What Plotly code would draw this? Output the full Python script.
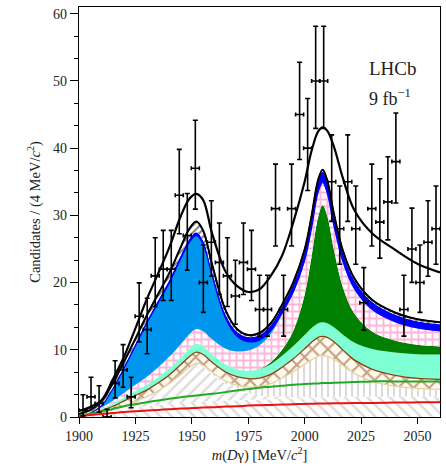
import numpy as np
import plotly.graph_objects as go

# ---- data: m(D gamma) histogram, 45 bins between 1900 and 2060 MeV ----
m_lo, m_hi, n_bins = 1900.0, 2060.0, 45
counts = [1, 3, 2, 0, 5, 7, 3, 15, 13, 21, 22, 22, 33, 27, 37, 20, 26, 23, 21, 18,
          23, 22, 16, 16, 31, 16, 31, 45, 40, 50, 50, 35, 28, 35, 28, 17, 31, 29, 32, 38,
          16, 25, 20, 26, 28]
err_hi = [2.30, 2.92, 2.64, 1.15, 3.38, 3.77, 2.92, 4.96, 4.67, 5.66, 5.76, 5.76, 6.81, 6.26, 7.14,
          5.58, 6.17, 5.87, 5.66, 5.32, 5.87, 5.76, 5.10, 5.10, 6.63, 5.10, 6.63, 7.77, 7.38, 8.13,
          8.13, 6.98, 6.36, 6.98, 6.36, 5.22, 6.63, 6.45, 6.72, 7.22, 5.10, 6.08, 5.58, 6.17, 6.36]
err_lo = [0.83, 1.63, 1.29, 0.00, 2.16, 2.58, 1.63, 3.83, 3.58, 4.55, 4.66, 4.66, 5.73, 5.17, 6.07,
          4.44, 5.07, 4.77, 4.55, 4.20, 4.77, 4.66, 3.96, 3.96, 5.55, 3.96, 5.55, 6.69, 6.31, 7.06,
          7.06, 5.90, 5.27, 5.90, 5.27, 4.08, 5.55, 5.36, 5.64, 6.15, 3.96, 4.97, 4.44, 5.07, 5.27]

# ---- fit components, evaluated at these masses (candidates per bin) ----
m_fit = [1900, 1905, 1910, 1915, 1920, 1925, 1930, 1935, 1940, 1945, 1949, 1952, 1955, 1959,
         1965, 1970, 1975, 1980, 1985, 1990, 1995, 2000, 2003, 2006, 2008, 2010, 2013, 2017,
         2022, 2030, 2040, 2050, 2060]
comb_bkg = [0.05, 0.3, 0.6, 0.9, 1.2, 1.4, 1.6, 1.8, 1.95, 2.1, 2.2, 2.25, 2.3, 2.35, 2.45, 2.5, 2.55,
            2.6, 2.65, 2.7, 2.75, 2.8, 2.8, 2.85, 2.85, 2.85, 2.9, 2.9, 2.95, 3.0, 3.0, 3.05, 3.1]
part_left = [0, 0, 0.05, 0.2, 0.5, 0.9, 1.4, 2.1, 3.0, 4.1, 5.1, 5.65, 5.2, 4.0, 2.5, 1.6, 1.0, 0.6,
             0.4, 0.3, 0.2, 0.15, 0.1, 0.1, 0.1, 0.1, 0.1, 0.05, 0.05, 0, 0, 0, 0]
part_right = [0, 0, 0, 0, 0, 0, 0, 0, 0, 0.1, 0.1, 0.1, 0.2, 0.3, 0.4, 0.6, 0.9, 1.3, 1.9, 2.8, 3.8,
              4.9, 5.6, 6.1, 6.2, 6.1, 5.6, 4.7, 3.5, 2.3, 1.6, 1.2, 1.0]
refl_brown = [0.02, 0.1, 0.3, 0.5, 0.7, 0.9, 1.0, 1.15, 1.3, 1.45, 1.6, 1.65, 1.6, 1.5, 1.35, 1.3, 1.25,
              1.3, 1.4, 1.6, 1.9, 2.3, 2.6, 2.8, 2.85, 2.8, 2.6, 2.3, 2.0, 1.8, 1.6, 1.5, 1.5]
refl_aqua = [0.02, 0.1, 0.25, 0.4, 0.55, 0.7, 0.8, 0.9, 1.0, 1.1, 1.2, 1.25, 1.25, 1.2, 1.15, 1.15, 1.2,
             1.3, 1.5, 1.7, 1.9, 2.05, 2.1, 2.1, 2.1, 2.1, 2.15, 2.3, 2.6, 3.0, 3.4, 3.6, 3.7]
sig_dstar = [0, 0, 0, 0, 0, 0, 0, 0, 0, 0, 0, 0, 0, 0, 0, 0, 0, 0.05, 0.3, 0.9, 2.3, 6.0, 10.5, 15.8,
             17.4, 16.0, 11.5, 7.0, 4.3, 2.6, 1.8, 1.4, 1.2]
refl_pink = [0, 0.05, 0.2, 0.4, 0.65, 0.9, 1.15, 1.4, 1.7, 1.95, 2.15, 2.2, 2.2, 2.2, 2.3, 2.6, 3.0, 3.5,
             4.2, 5.2, 5.6, 5.0, 4.2, 3.6, 3.3, 3.3, 3.5, 3.8, 3.7, 3.3, 2.8, 2.5, 2.3]
sig_left = [0, 0, 0.3, 1.8, 3.7, 5.8, 8.0, 9.6, 11.0, 12.7, 13.7, 13.9, 13.0, 9.5, 4.5, 2.3, 1.3, 0.8,
            0.5, 0.3, 0.2, 0.1, 0.1, 0.1, 0.1, 0.1, 0.1, 0.05, 0.05, 0, 0, 0, 0]
sig_blue = [0.05, 0.1, 0.15, 0.2, 0.25, 0.3, 0.35, 0.4, 0.45, 0.5, 0.5, 0.5, 0.5, 0.55, 0.6, 0.65, 0.7,
            0.75, 0.8, 0.9, 1.1, 1.3, 1.45, 1.55, 1.6, 1.55, 1.45, 1.3, 1.2, 1.1, 1.05, 1.0, 1.0]
sig_hatch = [0.3, 0.4, 0.5, 0.6, 0.7, 0.75, 0.8, 0.9, 1.0, 1.2, 1.5, 1.6, 1.5, 1.1, 0.6, 0.4, 0.3, 0.3,
             0.3, 0.3, 0.3, 0.3, 0.3, 0.3, 0.3, 0.3, 0.3, 0.3, 0.3, 0.3, 0.3, 0.3, 0.3]
bkg_red = [0.1, 0.3, 0.45, 0.6, 0.75, 0.85, 0.95, 1.05, 1.15, 1.25, 1.3, 1.35, 1.4, 1.45, 1.55, 1.6, 1.7,
           1.75, 1.8, 1.85, 1.9, 1.95, 1.97, 2.0, 2.0, 2.02, 2.04, 2.06, 2.08, 2.1, 2.15, 2.18, 2.2]
bkg_green = [0.2, 0.5, 0.8, 1.2, 1.6, 1.9, 2.2, 2.45, 2.7, 2.95, 3.1, 3.2, 3.3, 3.45, 3.7, 3.95, 4.15,
             4.35, 4.5, 4.65, 4.8, 4.9, 4.95, 5.0, 5.05, 5.05, 5.1, 5.15, 5.2, 5.3, 5.3, 5.3, 5.3]
total_fit = [0.9, 1.5, 2.5, 5.6, 9.0, 13.2, 17.5, 21.3, 25.2, 29.8, 32.5, 33.2, 32.3, 27.3, 21.6, 19.5,
             18.6, 19.0, 21.0, 24.0, 29.0, 35.0, 39.5, 42.5, 43.1, 42.6, 40.2, 35.5, 30.8, 27.3, 24.9,
             22.8, 21.5]

x_ticks = [1900, 1925, 1950, 1975, 2000, 2025, 2050]
y_ticks = [0, 10, 20, 30, 40, 50, 60]

bin_w = (m_hi - m_lo) / n_bins
centres = m_lo + bin_w * (np.arange(n_bins) + 0.5)

fig = go.Figure()

GREY = "#b8b8b8"
# stacked components: (values, solid colour or pattern, outline colour)
stack = [
    (comb_bkg, dict(pattern=dict(shape="\\", fgcolor=GREY, bgcolor="white", size=8, solidity=0.3)), None),
    (part_left, dict(pattern=dict(shape="/", fgcolor=GREY, bgcolor="white", size=8, solidity=0.3)), None),
    (part_right, dict(pattern=dict(shape="|", fgcolor=GREY, bgcolor="white", size=6, solidity=0.35)), "#e6d4a0"),
    (refl_brown, dict(pattern=dict(shape="x", fgcolor="#8b4513", bgcolor="#fffaf0", size=11, solidity=0.35)), "#8b4513"),
    (refl_aqua, dict(color="#7fffd4"), None),
    (sig_dstar, dict(color="#008000"), None),
    (refl_pink, dict(pattern=dict(shape="+", fgcolor="#ff69b4", bgcolor="white", size=7, solidity=0.45)), None),
    (sig_left, dict(color="#0096ee"), "#0000ff"),
    (sig_blue, dict(color="#0000ff"), None),
    (sig_hatch, dict(pattern=dict(shape="/", fgcolor="black", bgcolor="white", size=5, solidity=0.4)), "black"),
]

fig.add_trace(go.Scatter(x=m_fit, y=np.zeros(len(m_fit)), mode="lines",
                         line=dict(width=0), hoverinfo="skip", showlegend=False))
running = np.zeros(len(m_fit))
for vals, style, edge in stack:
    running = running + np.asarray(vals, dtype=float)
    kw = dict(x=m_fit, y=running.copy(), mode="lines", fill="tonexty",
              line=dict(width=1.3 if edge else 0, color=edge or "rgba(0,0,0,0)", shape="spline"),
              hoverinfo="skip", showlegend=False)
    if "pattern" in style:
        kw["fillpattern"] = style["pattern"]
        kw["fillcolor"] = style["pattern"]["bgcolor"]
    else:
        kw["fillcolor"] = style["color"]
    fig.add_trace(go.Scatter(**kw))

# outline of the stacked model
fig.add_trace(go.Scatter(x=m_fit, y=running, mode="lines",
                         line=dict(color="black", width=2, shape="spline"), showlegend=False))

# background shapes drawn as lines
fig.add_trace(go.Scatter(x=m_fit, y=bkg_green, mode="lines",
                         line=dict(color="#22aa22", width=2, shape="spline"), showlegend=False))
fig.add_trace(go.Scatter(x=m_fit, y=bkg_red, mode="lines",
                         line=dict(color="#ee1111", width=2, shape="spline"), showlegend=False))

# total fit
fig.add_trace(go.Scatter(x=m_fit, y=total_fit, mode="lines",
                         line=dict(color="black", width=2.2, shape="spline"), showlegend=False))

# data points
fig.add_trace(go.Scatter(
    x=centres, y=counts, mode="markers",
    marker=dict(size=1, color="black"),
    error_y=dict(type="data", symmetric=False, array=err_hi, arrayminus=err_lo,
                 color="black", thickness=1.6, width=2.5),
    error_x=dict(type="constant", value=bin_w / 2, color="black", thickness=1.6, width=2),
    showlegend=False))

font_family = "Liberation Serif"
fig.add_annotation(x=2027.5, y=51.8, text="LHCb", showarrow=False, xanchor="left",
                   font=dict(family=font_family, size=19, color="#222"))
fig.add_annotation(x=2027.5, y=47.6, text="9 fb<sup>−1</sup>", showarrow=False, xanchor="left",
                   font=dict(family=font_family, size=18, color="#222"))

fig.update_layout(
    width=446, height=467,
    margin=dict(l=79, r=6, t=7, b=50),
    paper_bgcolor="white", plot_bgcolor="white",
    font=dict(family=font_family, size=14, color="#222"),
)
fig.update_xaxes(
    range=[m_lo, m_hi], tickvals=x_ticks, ticktext=[str(v) for v in x_ticks],
    showline=True, mirror=True, linecolor="black", linewidth=1.3,
    ticks="outside", ticklen=6, tickwidth=1.2, tickcolor="black", showgrid=False, zeroline=False,
    title=dict(text="<i>m</i>(<i>D</i>γ) [MeV/<i>c</i><sup>2</sup>]", standoff=6, font=dict(size=14.5)),
)
fig.update_yaxes(
    range=[0, 61], tickvals=y_ticks, ticktext=[str(v) for v in y_ticks],
    showline=True, mirror=True, linecolor="black", linewidth=1.3,
    ticks="outside", ticklen=8, tickwidth=1.2, tickcolor="black", showgrid=False, zeroline=False,
    minor=dict(dtick=10 / 3, ticklen=4, ticks="outside", tickcolor="black", showgrid=False),
    title=dict(text="Candidates / (4 MeV/<i>c</i><sup>2</sup>)", standoff=8, font=dict(size=14.5)),
)

fig.write_html("out.html")
